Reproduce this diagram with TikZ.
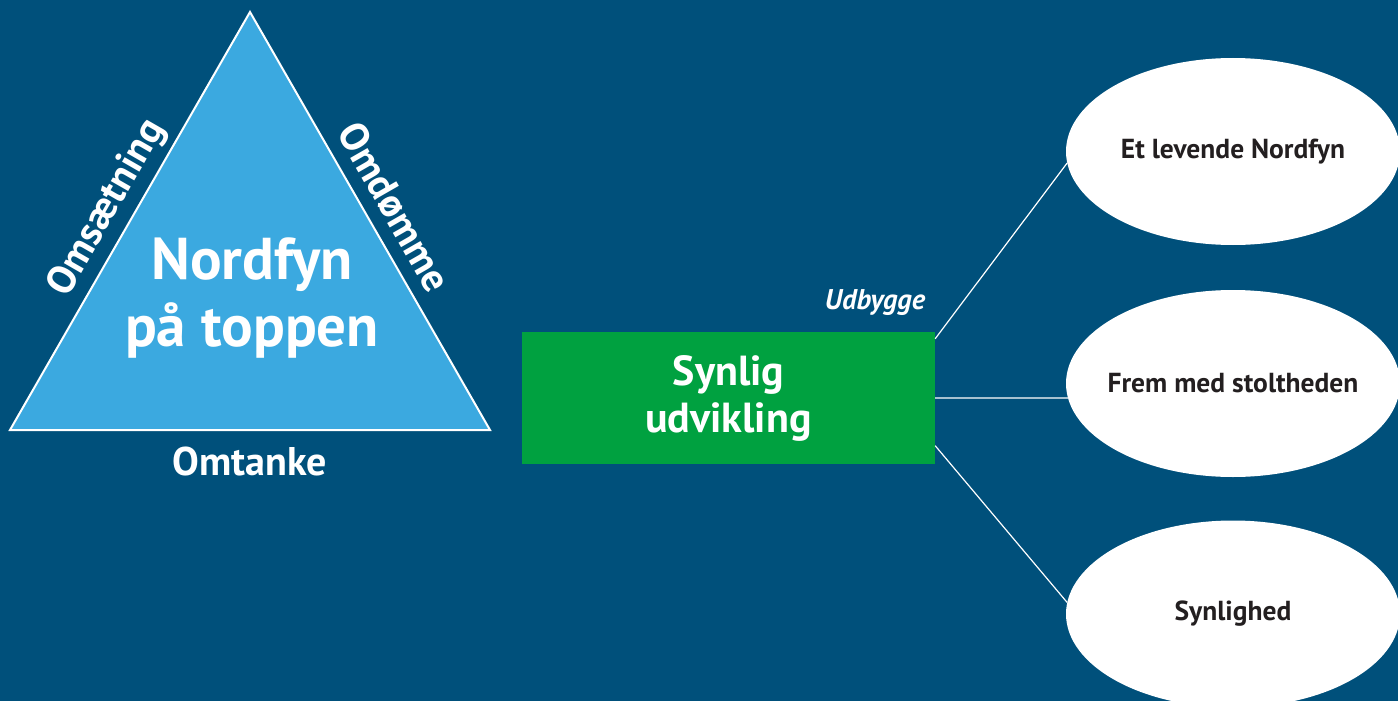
\documentclass[tikz,border=0pt]{standalone}
\usepackage{fontspec}
\setmainfont{PT Sans}
\usetikzlibrary{shapes.geometric}

\definecolor{navy}{HTML}{00507B}
\definecolor{sky}{HTML}{3BA9E0}
\definecolor{grass}{HTML}{00A140}
\definecolor{ink}{HTML}{231F20}

\tikzset{
    side/.style = {text=white, font=\fontsize{40}{44}\selectfont\bfseries},
    goal/.style = {ellipse, fill=white, minimum width=334pt, minimum height=187pt, inner sep=0pt,
                   text=ink, font=\fontsize{27.5}{30}\selectfont\bfseries,
                   execute at begin node={\hbox to 0pt\bgroup\hss},
                   execute at end node={\hss\egroup}},
    link/.style = {white, line width=1.2pt}
}

\begin{document}
\begin{tikzpicture}[x = 1pt, y = -1pt]
        \fill[navy] (0, 0) rectangle (1398, 701);
        \useasboundingbox (0, 0) rectangle (1398, 701);

        % triangle
        \coordinate (top) at (250, 12);
        \coordinate (left) at (10, 430);
        \coordinate (right) at (490, 430);
        \draw[white, line width = 2pt, fill = sky] (left) -- (top) -- (right) -- cycle;

        \node[white, align = center, font = \fontsize{59}{67}\selectfont\bfseries] (nord) at (252, 298) {Nordfyn\\på toppen};
        \path (left) -- (top) node[side, midway, sloped, above = 4pt] (oms) {Omsætning};
        \path (top) -- (right) node[side, midway, sloped, above = 10pt] (omd) {Omdømme};
        \node[side] (omt) at (250, 461) {Omtanke};

        % box and goals
        \node[fill = grass, minimum width = 413pt, minimum height = 132pt, text = white, align = center,
              font = \fontsize{42}{47}\selectfont\bfseries] (syn) at (728.5, 398) {Synlig\\udvikling};
        \node[text = white, font = \fontsize{28.5}{30}\selectfont\bfseries\itshape] (udb) at (875, 303) {Udbygge};

        \node[goal] (lev) at (1233, 151.5) {Et levende Nordfyn};
        \node[goal] (frem) at (1233, 383.5) {Frem med stoltheden};
        \node[goal] (vis) at (1233, 614) {Synlighed};

        \draw[link] (syn.16) -- (lev.184);
        \draw[link] (syn.east) -- (frem.185);
        \draw[link] (syn.-13) -- (vis.176);
    \end{tikzpicture}
\end{document}
